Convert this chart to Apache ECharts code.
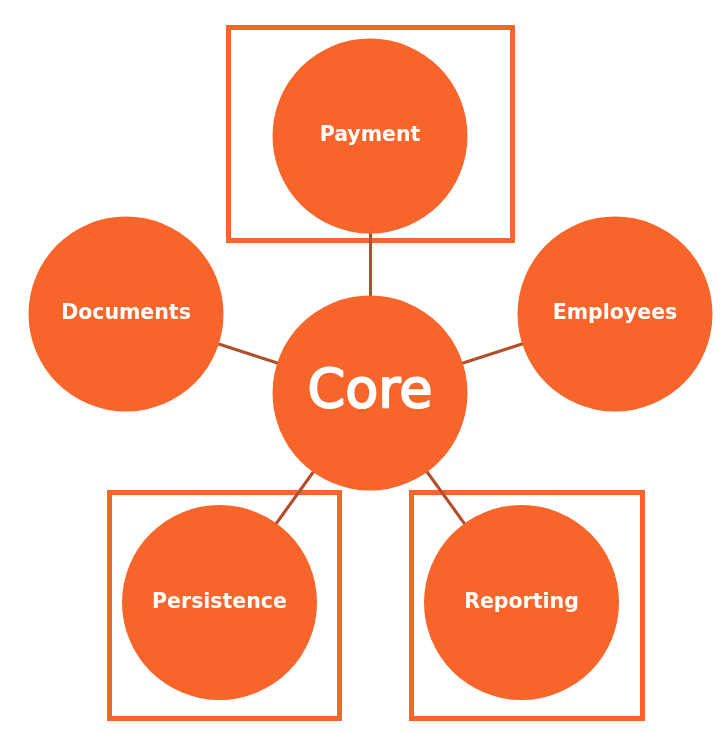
<!DOCTYPE html>
<html>
<head>
<meta charset="utf-8">
<title>Core modules</title>
<script src="https://cdn.jsdelivr.net/npm/echarts@6/dist/echarts.min.js"></script>
<style>
  html, body { margin: 0; padding: 0; background: #fff; }
  #chart { width: 720px; height: 733px; }
</style>
</head>
<body>
<div id="chart"></div>
<script>
// node names and their centres (chart units = pixels of the 720x733 picture)
var nodeNames = ['Payment', 'Documents', 'Core', 'Employees', 'Persistence', 'Reporting'];
var nodeX = [370, 126, 370, 615, 219.5, 521.5];
var nodeY = [136, 314, 393, 314, 602.5, 602.5];

// every module hangs off Core
var linkSources = ['Payment', 'Documents', 'Employees', 'Persistence', 'Reporting'];
var linkTarget = 'Core';

// framed modules: [left, top, right, bottom]
var boxedNames = ['Payment', 'Persistence', 'Reporting'];
var boxLeft = [228.5, 109.5, 411.5];
var boxTop = [27.5, 492.5, 492.5];
var boxRight = [512.5, 339.5, 642.5];
var boxBottom = [240.5, 718.5, 718.5];

var orange = '#F8652A';
var lineBrown = '#B24F2B';

var chart = echarts.init(document.getElementById('chart'));

var nodes = nodeNames.map(function (name, i) {
    var isCore = name === 'Core';
    return {
        name: name,
        value: [nodeX[i], nodeY[i]],
        label: isCore ? {
            fontSize: 54,
            fontWeight: 'normal',
            textBorderColor: '#fff',
            textBorderWidth: 2
        } : {}
    };
});

var links = linkSources.map(function (s) {
    return { source: s, target: linkTarget };
});

var boxes = boxedNames.map(function (name, i) {
    return [boxLeft[i], boxTop[i], boxRight[i], boxBottom[i]];
});

chart.setOption({
    backgroundColor: '#fff',
    animation: false,
    grid: { left: 0, right: 0, top: 0, bottom: 0 },
    xAxis: { type: 'value', min: 0, max: 720, show: false },
    yAxis: { type: 'value', min: 0, max: 733, inverse: true, show: false },
    series: [
        {
            type: 'custom',
            name: 'frames',
            coordinateSystem: 'cartesian2d',
            z: 1,
            encode: { x: [0, 2], y: [1, 3] },
            data: boxes,
            renderItem: function (params, api) {
                var a = api.coord([api.value(0), api.value(1)]);
                var b = api.coord([api.value(2), api.value(3)]);
                return {
                    type: 'rect',
                    shape: {
                        x: Math.min(a[0], b[0]),
                        y: Math.min(a[1], b[1]),
                        width: Math.abs(b[0] - a[0]),
                        height: Math.abs(b[1] - a[1])
                    },
                    style: { fill: null, stroke: orange, lineWidth: 5 }
                };
            }
        },
        {
            type: 'graph',
            coordinateSystem: 'cartesian2d',
            z: 2,
            symbol: 'circle',
            symbolSize: 195,
            edgeSymbol: ['none', 'none'],
            itemStyle: { color: orange },
            lineStyle: { color: lineBrown, width: 3, opacity: 1 },
            label: {
                show: true,
                position: 'inside',
                color: '#fff',
                fontFamily: 'DejaVu Sans',
                fontWeight: 'bold',
                fontSize: 20.5
            },
            emphasis: { disabled: true },
            data: nodes,
            links: links
        }
    ]
});
</script>
</body>
</html>
